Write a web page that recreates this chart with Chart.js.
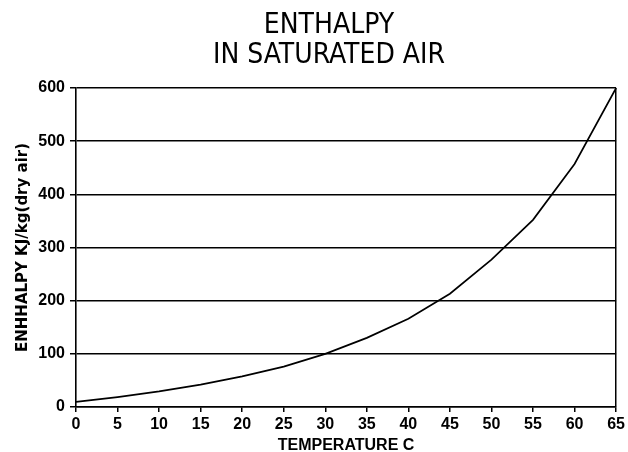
<!DOCTYPE html>
<html>
<head>
<meta charset="utf-8">
<script src="https://cdn.jsdelivr.net/npm/chart.js@4.4.0/dist/chart.umd.min.js"></script>
<style>
  html, body { margin: 0; padding: 0; background: #fff; }
  #wrap { width: 628px; height: 452px; }
</style>
</head>
<body>
<div id="wrap"><canvas id="chart" width="628" height="452"></canvas></div>
<script>
const temps = [0, 5, 10, 15, 20, 25, 30, 35, 40, 45, 50, 55, 60, 65];
const enthalpy = [9.5, 18.6, 29.3, 42, 57.6, 76, 100, 130, 166, 213, 277, 352, 457, 600];
const titleLines = ['ENTHALPY', 'IN SATURATED AIR'];
const yLabel = 'ENHHALPY KJ/kg(dry air)';
const xLabel = 'TEMPERATURE C';

const tickFont = { family: 'Liberation Sans, Arial, sans-serif', size: 16, weight: 'bold' };

// two-line heading, sits a bit left of the plot centre like the original
const heading = {
  id: 'heading',
  afterDraw(chart) {
    const ctx = chart.ctx;
    ctx.save();
    ctx.fillStyle = '#000';
    ctx.font = '28px "Liberation Sans Narrow", "DejaVu Sans Condensed", "Arial Narrow", sans-serif';
    ctx.textAlign = 'center';
    ctx.textBaseline = 'middle';
    titleLines.forEach((t, i) => ctx.fillText(t, 329, 26 + i * 30));
    ctx.restore();
  }
};

new Chart(document.getElementById('chart'), {
  type: 'line',
  data: {
    labels: temps,
    datasets: [{
      data: enthalpy,
      borderColor: '#000',
      borderWidth: 1.7,
      pointRadius: 0,
      tension: 0,
      fill: false
    }]
  },
  options: {
    responsive: false,
    animation: false,
    layout: { padding: { top: 88, right: 8, left: 0, bottom: 0 } },
    plugins: { legend: { display: false }, tooltip: { enabled: false } },
    scales: {
      x: {
        afterFit: s => { s.height = 45; },
        grid: {
          color: c => c.index === temps.length - 1 ? '#000' : 'rgba(0,0,0,0)',
          tickColor: '#000',
          lineWidth: 1.5,
          tickLength: 5
        },
        border: { display: true, color: '#000', width: 1.6 },
        ticks: { color: '#000', font: tickFont, padding: 3, maxRotation: 0, autoSkip: false },
        title: {
          display: true, text: xLabel, color: '#000',
          font: { family: 'Liberation Sans, Arial, sans-serif', size: 16, weight: 'bold', lineHeight: 0.8 },
          padding: { top: 0, bottom: 0 }
        }
      },
      y: {
        min: 0, max: 600,
        afterFit: s => { s.width = 76; },
        grid: { color: '#000', lineWidth: 1.5, tickLength: 6 },
        border: { display: true, color: '#000', width: 1.6 },
        ticks: { stepSize: 100, color: '#000', font: tickFont, padding: 5 },
        title: {
          display: true, text: yLabel, color: '#000',
          font: { family: 'DejaVu Sans, sans-serif', size: 15, weight: 'bold', lineHeight: 1.2 },
          padding: { top: 14, bottom: 0 }
        }
      }
    }
  },
  plugins: [heading]
});
</script>
</body>
</html>
